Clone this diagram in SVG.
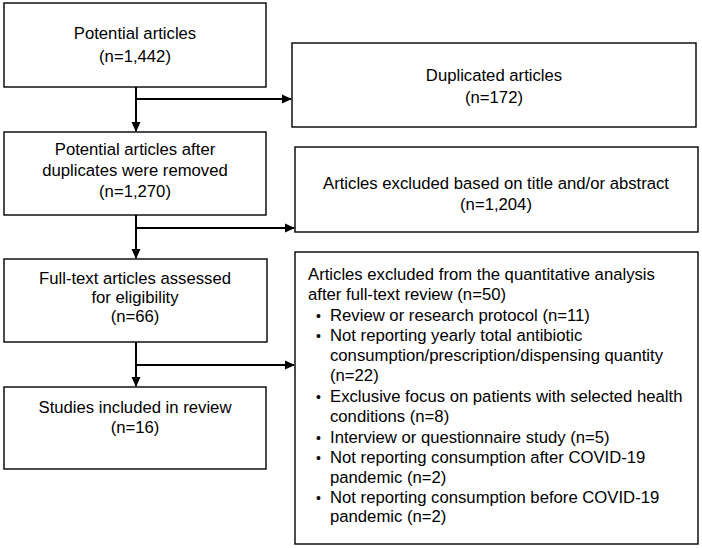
<svg xmlns="http://www.w3.org/2000/svg" width="702" height="548" viewBox="0 0 702 548">
<style>
.box{fill:#fff;stroke:#000;stroke-width:1.4}
text{font-family:"Liberation Sans",Arial,sans-serif;font-size:16.7px;fill:#000}
.c{text-anchor:middle}
.b{font-size:14px}
.ln{stroke:#000;stroke-width:2;fill:none}
</style>
<defs>
<marker id="ah" markerWidth="10" markerHeight="10" refX="9" refY="5" orient="auto" markerUnits="userSpaceOnUse">
<path d="M0,0.5 L10,5 L0,9.5 Z" fill="#000"/>
</marker>
</defs>
<rect width="702" height="548" fill="#fff"/>
<g id="connectors">
<line class="ln" x1="136" y1="87" x2="136" y2="131" marker-end="url(#ah)"/>
<line class="ln" x1="136" y1="99" x2="291" y2="99" marker-end="url(#ah)"/>
<line class="ln" x1="136" y1="215" x2="136" y2="258" marker-end="url(#ah)"/>
<line class="ln" x1="136" y1="228" x2="294" y2="228" marker-end="url(#ah)"/>
<line class="ln" x1="136" y1="342" x2="136" y2="386" marker-end="url(#ah)"/>
<line class="ln" x1="136" y1="365" x2="294" y2="365" marker-end="url(#ah)"/>
</g>
<g id="potential">
<rect class="box" x="4" y="3" width="262" height="84"/>
<text class="c" x="135" y="39">Potential articles</text>
<text class="c" x="135" y="62">(n=1,442)</text>
</g>
<g id="duplicated">
<rect class="box" x="292" y="43" width="404" height="84"/>
<text class="c" x="494" y="81">Duplicated articles</text>
<text class="c" x="494" y="103">(n=172)</text>
</g>
<g id="after-dup">
<rect class="box" x="4" y="132" width="262" height="83"/>
<text class="c" x="135" y="155">Potential articles after</text>
<text class="c" x="135" y="176">duplicates were removed</text>
<text class="c" x="135" y="197">(n=1,270)</text>
</g>
<g id="excluded-title">
<rect class="box" x="295" y="147" width="403" height="85"/>
<text class="c" x="496" y="189">Articles excluded based on title and/or abstract</text>
<text class="c" x="496" y="210">(n=1,204)</text>
</g>
<g id="fulltext">
<rect class="box" x="4" y="259" width="263" height="83"/>
<text class="c" x="135" y="284">Full-text articles assessed</text>
<text class="c" x="135" y="303">for eligibility</text>
<text class="c" x="135" y="322">(n=66)</text>
</g>
<g id="excluded-full">
<rect class="box" x="295" y="252" width="403" height="292"/>
<text x="308" y="280">Articles excluded from the quantitative analysis</text>
<text x="308" y="300">after full-text review (n=50)</text>
<text class="b" x="316" y="321">•</text><text x="330" y="321">Review or research protocol (n=11)</text>
<text class="b" x="316" y="341">•</text><text x="330" y="341">Not reporting yearly total antibiotic</text>
<text x="330" y="361">consumption/prescription/dispensing quantity</text>
<text x="330" y="381">(n=22)</text>
<text class="b" x="316" y="402">•</text><text x="330" y="402">Exclusive focus on patients with selected health</text>
<text x="330" y="422">conditions (n=8)</text>
<text class="b" x="316" y="443">•</text><text x="330" y="443">Interview or questionnaire study (n=5)</text>
<text class="b" x="316" y="463">•</text><text x="330" y="463">Not reporting consumption after COVID-19</text>
<text x="330" y="483">pandemic (n=2)</text>
<text class="b" x="316" y="503">•</text><text x="330" y="503">Not reporting consumption before COVID-19</text>
<text x="330" y="522">pandemic (n=2)</text>
</g>
<g id="included">
<rect class="box" x="4" y="387" width="262" height="82"/>
<text class="c" x="135" y="413">Studies included in review</text>
<text class="c" x="135" y="433">(n=16)</text>
</g>
</svg>
